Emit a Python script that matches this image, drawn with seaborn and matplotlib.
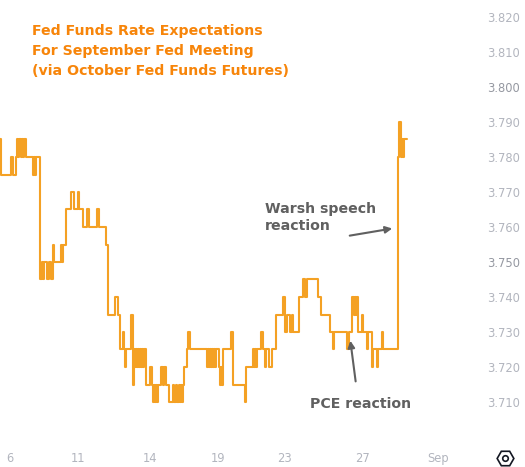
import matplotlib
matplotlib.use("Agg")
import matplotlib.pyplot as plt
import seaborn as sns
import pandas as pd

# ---- data (bar index on a trading-time axis, rate) ----
bar_index = [0, 1, 11, 13, 16, 17, 18, 19, 21, 22, 23, 24, 26, 33, 34, 35, 36,
             40, 42, 43, 44, 47, 49, 51, 53, 54, 61, 62, 63, 66, 71, 74, 78, 79,
             83, 87, 89, 97, 99, 106, 108, 115, 118, 120, 123, 124, 125, 126, 131,
             133, 134, 135, 136, 137, 138, 139, 140, 141, 142, 143, 144, 146, 150,
             152, 153, 154, 155, 156, 157, 158, 161, 163, 164, 166, 169, 173, 174,
             176, 177, 179, 180, 181, 182, 183, 184, 187, 188, 190, 207, 208, 209,
             210, 211, 212, 213, 214, 215, 216, 219, 220, 221, 222, 223, 231, 233,
             245, 246, 253, 254, 255, 256, 257, 261, 263, 265, 266, 269, 272, 276,
             283, 285, 287, 290, 292, 293, 299, 303, 305, 307, 318, 321, 330, 333,
             334, 347, 349, 352, 354, 355, 356, 357, 358, 362, 363, 367, 368, 372,
             373, 377, 378, 382, 383, 398, 399, 401, 402, 403, 404, 407]
rate = [3.785, 3.775, 3.780, 3.775, 3.780, 3.785, 3.780, 3.785, 3.780, 3.785, 3.780, 3.785, 3.780, 3.775, 3.780, 3.775, 3.780,
        3.745, 3.750, 3.745, 3.750, 3.745, 3.750, 3.745, 3.755, 3.750, 3.755, 3.750, 3.755, 3.765, 3.770, 3.765, 3.770, 3.765,
        3.760, 3.765, 3.760, 3.765, 3.760, 3.755, 3.735, 3.740, 3.735, 3.725, 3.730, 3.725, 3.720, 3.725, 3.735,
        3.715, 3.725, 3.720, 3.725, 3.720, 3.725, 3.720, 3.725, 3.720, 3.725, 3.720, 3.725, 3.715, 3.720,
        3.715, 3.710, 3.715, 3.710, 3.715, 3.710, 3.715, 3.720, 3.715, 3.720, 3.715, 3.710, 3.715, 3.710,
        3.715, 3.710, 3.715, 3.710, 3.715, 3.710, 3.715, 3.720, 3.725, 3.730, 3.725, 3.720, 3.725, 3.720,
        3.725, 3.720, 3.725, 3.720, 3.725, 3.720, 3.725, 3.720, 3.715, 3.720, 3.715, 3.725, 3.730, 3.715,
        3.710, 3.720, 3.725, 3.720, 3.725, 3.720, 3.725, 3.730, 3.725, 3.720, 3.725, 3.720, 3.725, 3.735,
        3.740, 3.730, 3.735, 3.730, 3.735, 3.730, 3.740, 3.745, 3.740, 3.745, 3.740, 3.735, 3.730, 3.725,
        3.730, 3.725, 3.730, 3.740, 3.735, 3.740, 3.735, 3.740, 3.730, 3.735, 3.730, 3.725, 3.730, 3.720,
        3.725, 3.720, 3.725, 3.730, 3.725, 3.780, 3.790, 3.780, 3.785, 3.780, 3.785, 3.785]

tick_bars = [10, 78, 150, 218, 285, 362, 438]
tick_labels = ["6", "11", "14", "19", "23", "27", "Sep"]
y_ticks = [3.710, 3.720, 3.730, 3.740, 3.750, 3.760, 3.770, 3.780, 3.790, 3.800, 3.810, 3.820]

title_lines = ["Fed Funds Rate Expectations",
               "For September Fed Meeting",
               "(via October Fed Funds Futures)"]

df = pd.DataFrame({"bar": bar_index, "rate": rate})

sns.set_theme(style="white")
plt.rcParams['font.family'] = ['DejaVu Sans']

fig = plt.figure(figsize=(5.25, 4.67), dpi=100)
ax = fig.add_axes([0, 22 / 467, 470 / 525, 445 / 467])

sns.lineplot(data=df, x="bar", y="rate", ax=ax, color="#F4A124", linewidth=1.5,
             drawstyle="steps-post", estimator=None)

ax.set_xlim(0, 470)
ax.set_ylim(3.820 - 428 / 3500, 3.820 + 17 / 3500)

ax.set_xticks(tick_bars)
ax.set_xticklabels(tick_labels)
ax.set_yticks(y_ticks)
ax.set_yticklabels([f"{v:.3f}" for v in y_ticks])
ax.yaxis.tick_right()
ax.tick_params(axis="y", length=0, pad=12, labelsize=8.3, labelcolor="#B2B5BE")
ax.tick_params(axis="x", length=0, pad=5, labelsize=8.3, labelcolor="#B2B5BE")
for lbl in ax.get_yticklabels():
    if lbl.get_text() in ("3.800", "3.750"):
        lbl.set_color("#9598A1")
ax.set_xlabel("")
ax.set_ylabel("")
for s in ax.spines.values():
    s.set_visible(False)
ax.grid(False)

# title block
for i, line in enumerate(title_lines):
    fig.text(32 / 525, 1 - (31 + 20 * i) / 467, line, color="#F7850A",
             fontsize=10.2, fontweight="bold", ha="left", va="center")

# annotations
ax.annotate("", xy=(395, 3.7597), xytext=(347, 3.7574),
            arrowprops=dict(arrowstyle="-|>", color="#606060", lw=1.5,
                            mutation_scale=10))
ax.text(265, 3.7628, "Warsh speech\nreaction", color="#606060", fontsize=10.2,
        fontweight="bold", ha="left", va="center", linespacing=1.3)

ax.annotate("", xy=(350, 3.7283), xytext=(356, 3.7151),
            arrowprops=dict(arrowstyle="-|>", color="#606060", lw=1.5,
                            mutation_scale=10))
ax.text(310, 3.7094, "PCE reaction", color="#606060", fontsize=10.2,
        fontweight="bold", ha="left", va="center")

# settings icon
fig.lines.append(plt.Line2D([505 / 525], [1 - 458 / 467], marker="H", markersize=12,
                            markerfacecolor="none", markeredgecolor="#131722",
                            markeredgewidth=1.2, transform=fig.transFigure))
fig.lines.append(plt.Line2D([505 / 525], [1 - 458 / 467], marker="o", markersize=4,
                            markerfacecolor="none", markeredgecolor="#131722",
                            markeredgewidth=1.2, transform=fig.transFigure))

fig.savefig("out.png", dpi=100)
